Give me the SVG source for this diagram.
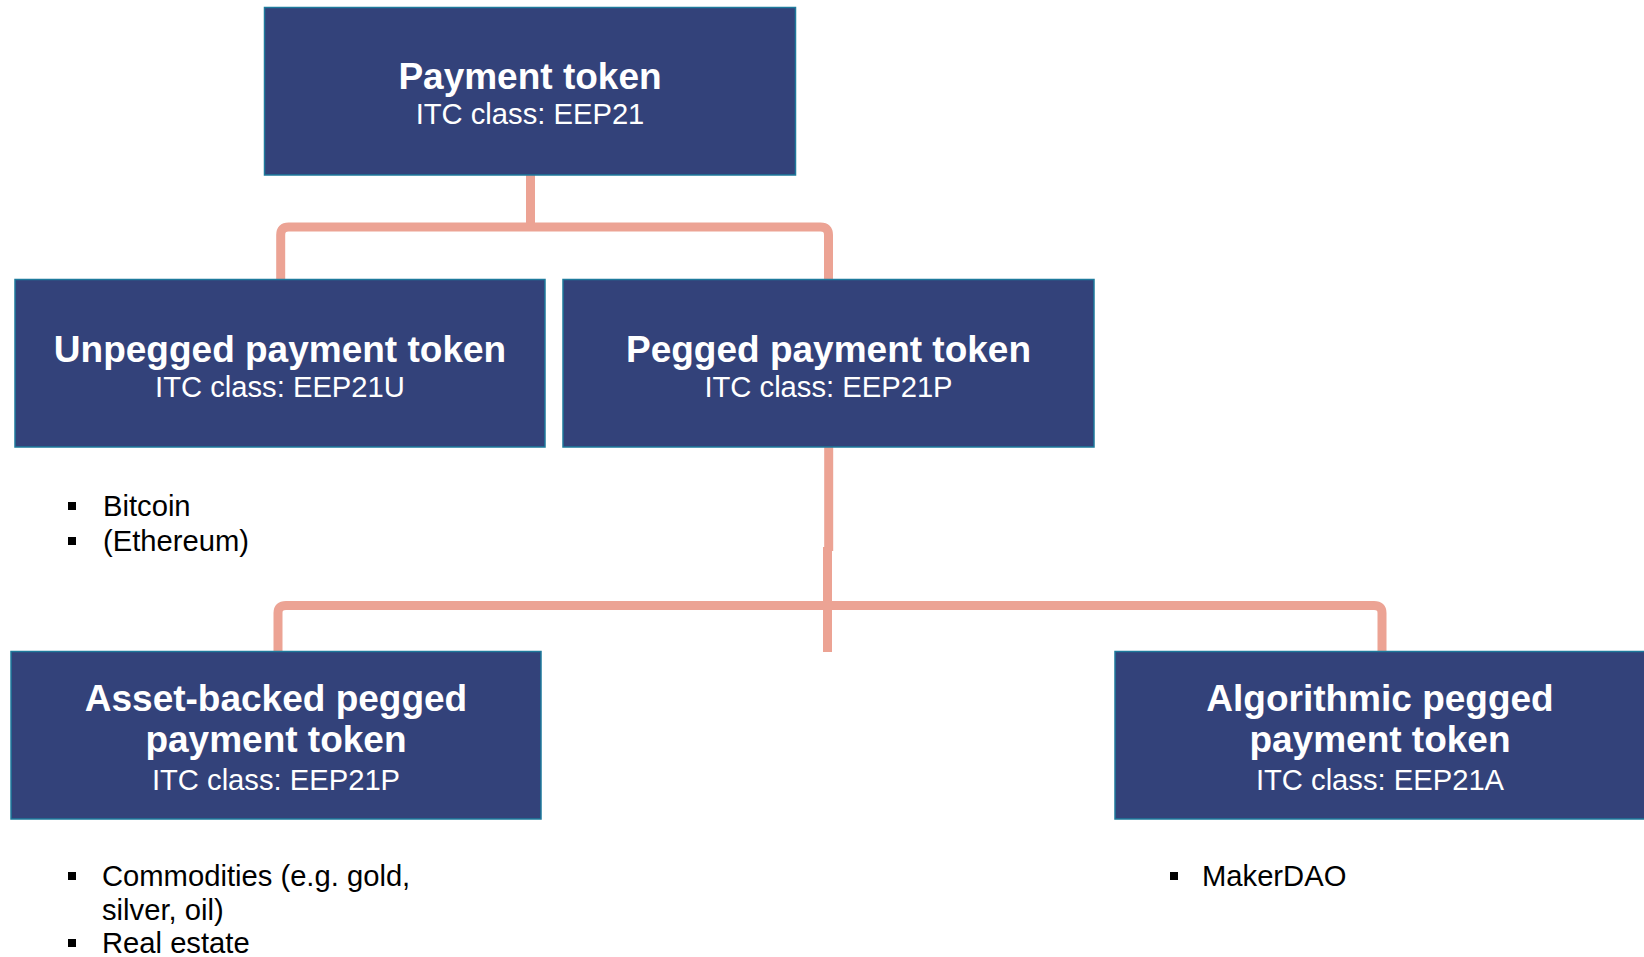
<svg xmlns="http://www.w3.org/2000/svg" width="1644" height="957" viewBox="0 0 1644 957">
<style>
.box{fill:#33427A;stroke:#1E7A9C;stroke-width:1.5}
.t{font-family:"Liberation Sans",Arial,sans-serif;font-weight:bold;font-size:37px;fill:#fff;text-anchor:middle}
.s{font-family:"Liberation Sans",Arial,sans-serif;font-size:29.2px;fill:#fff;text-anchor:middle}
.b{font-family:"Liberation Sans",Arial,sans-serif;font-size:29.2px;fill:#000}
.c{fill:none;stroke:#ECA394;stroke-width:9;stroke-linejoin:round}
.sq{fill:#000}
</style>
<rect width="1644" height="957" fill="#fff"/>
<g id="connectors">
<path class="c" d="M530.5,175 V227"/>
<path class="c" d="M280.7,279 V235 Q280.7,227 288.7,227 H820.5 Q828.5,227 828.5,235 V279"/>
<path class="c" d="M828.7,447 V551"/>
<path class="c" d="M827.5,547 V652"/>
<path class="c" d="M278,651 V613 Q278,605.5 286,605.5 H1374 Q1382,605.5 1382,613 V651"/>
</g>
<g id="payment-token">
<rect class="box" x="264.5" y="7.5" width="531" height="167.5"/>
<text class="t" x="530" y="89">Payment token</text>
<text class="s" x="530" y="124">ITC class: EEP21</text>
</g>
<g id="unpegged">
<rect class="box" x="15" y="279.5" width="530" height="167.5"/>
<text class="t" x="280" y="361.5">Unpegged payment token</text>
<text class="s" x="280" y="396.5">ITC class: EEP21U</text>
</g>
<g id="pegged">
<rect class="box" x="563" y="279.5" width="531" height="167.5"/>
<text class="t" x="828.5" y="361.5">Pegged payment token</text>
<text class="s" x="828.5" y="396.5">ITC class: EEP21P</text>
</g>
<g id="asset-backed">
<rect class="box" x="11" y="651.5" width="530" height="167.5"/>
<text class="t" x="276" y="711">Asset-backed pegged</text>
<text class="t" x="276" y="752">payment token</text>
<text class="s" x="276" y="789.5">ITC class: EEP21P</text>
</g>
<g id="algorithmic">
<rect class="box" x="1115" y="651.5" width="535" height="167.5"/>
<text class="t" x="1380" y="711">Algorithmic pegged</text>
<text class="t" x="1380" y="752">payment token</text>
<text class="s" x="1380" y="789.5">ITC class: EEP21A</text>
</g>
<g id="unpegged-examples">
<rect class="sq" x="68" y="502" width="8" height="8"/>
<text class="b" x="103" y="516">Bitcoin</text>
<rect class="sq" x="68" y="537" width="8" height="8"/>
<text class="b" x="103" y="551">(Ethereum)</text>
</g>
<g id="asset-backed-examples">
<rect class="sq" x="68" y="872" width="8" height="8"/>
<text class="b" x="102" y="886">Commodities (e.g. gold,</text>
<text class="b" x="102" y="920">silver, oil)</text>
<rect class="sq" x="68" y="939" width="8" height="8"/>
<text class="b" x="102" y="953">Real estate</text>
</g>
<g id="algorithmic-examples">
<rect class="sq" x="1170" y="872" width="8" height="8"/>
<text class="b" x="1202" y="886">MakerDAO</text>
</g>
</svg>
